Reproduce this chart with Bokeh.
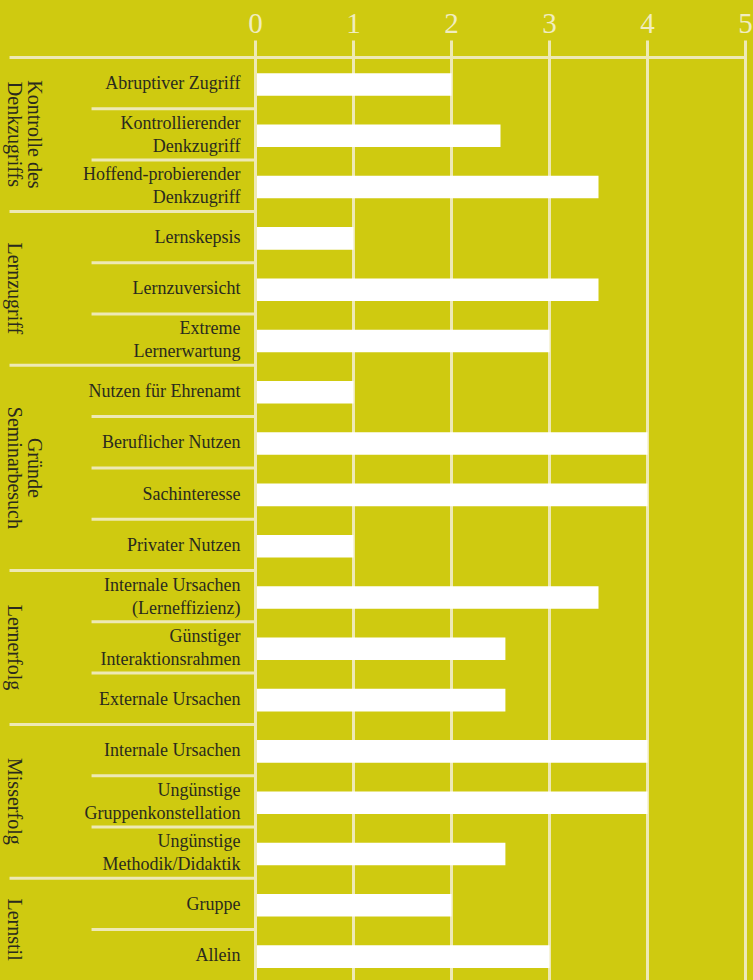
import math
from bokeh.plotting import figure
from bokeh.models import Range1d, GlobalInlineStyleSheet
from bokeh.core.properties import value
from bokeh.embed import file_html
from bokeh.resources import INLINE

# ---------------- data ----------------
categories = [
    "Abruptiver Zugriff", "Kontrollierender\nDenkzugriff", "Hoffend-probierender\nDenkzugriff",
    "Lernskepsis", "Lernzuversicht", "Extreme\nLernerwartung",
    "Nutzen für Ehrenamt", "Beruflicher Nutzen", "Sachinteresse", "Privater Nutzen",
    "Internale Ursachen\n(Lerneffizienz)", "Günstiger\nInteraktionsrahmen", "Externale Ursachen",
    "Internale Ursachen", "Ungünstige\nGruppenkonstellation", "Ungünstige\nMethodik/Didaktik",
    "Gruppe", "Allein",
]
values = [2.0, 2.5, 3.5, 1.0, 3.5, 3.0, 1.0, 4.0, 4.0, 1.0, 3.5, 2.55, 2.55, 4.0, 4.0, 2.55, 2.0, 3.0]
groups = ["Kontrolle des\nDenkzugriffs", "Lernzugriff", "Gründe\nSeminarbesuch",
          "Lernerfolg", "Misserfolg", "Lernstil"]
group_sizes = [3, 3, 4, 3, 3, 2]
ticks = [0, 1, 2, 3, 4, 5]

# ---------------- style ----------------
BG = "#cfca10"
LINE = "#eee9b4"
TICK_TXT = "#f1edc0"
TXT = "#2a2a1e"
FONT = value("Liberation Serif")

W, H = 753, 980
p = figure(width=W, height=H,
           x_range=Range1d(-2.602, 5.0816), y_range=Range1d(17.992, -1.111),
           output_backend="svg", toolbar_location=None, min_border=0,
           x_axis_location=None, y_axis_location=None,
           background_fill_color=BG, border_fill_color=BG, outline_line_color=None)
p.grid.visible = False
p.stylesheets = [GlobalInlineStyleSheet(css="body { background-color: %s; }" % BG)]

n = len(categories)
centers = [r + 0.5 for r in range(n)]

# vertical gridlines
p.segment(x0=ticks[1:], x1=ticks[1:], y0=[-0.331] * 5, y1=[18.5] * 5,
          line_color=LINE, line_width=3)

# bars
p.hbar(y=[c + 0.026 for c in centers], left=0, right=values, height=0.44,
       fill_color="white", line_color=None)

# zero line on top
p.segment(x0=[0], x1=[0], y0=[-0.331], y1=[18.5], line_color=LINE, line_width=3)

# horizontal separators
group_starts = []
acc = 0
for g in group_sizes:
    group_starts.append(acc)
    acc += g
sx0, sx1, sy = [], [], []
for b in range(n):
    if b == 0:
        sx0.append(-2.51); sx1.append(5)
    elif b in group_starts:
        sx0.append(-2.51); sx1.append(0)
    else:
        sx0.append(-1.673); sx1.append(0)
    sy.append(b)
p.segment(x0=sx0, x1=sx1, y0=sy, y1=sy, line_color=LINE, line_width=3)

# tick labels
p.text(x=ticks, y=[-0.663] * len(ticks), text=[str(t) for t in ticks],
       text_font=FONT, text_font_size="29px", text_color=TICK_TXT,
       text_align="center", text_baseline="middle")

# row labels
lx, ly, lt = [], [], []
for c, lab in zip(centers, categories):
    parts = lab.split("\n")
    k = len(parts)
    for i, part in enumerate(parts):
        off = (i - (k - 1) / 2) * 0.448
        lx.append(-0.153); ly.append(c + off); lt.append(part)
p.text(x=lx, y=ly, text=lt, text_font=FONT, text_font_size="18px",
       text_color=TXT, text_align="right", text_baseline="middle")

# group labels (rotated)
gx, gy, gt = [], [], []
for start, size, name in zip(group_starts, group_sizes, groups):
    mid = start + size / 2
    parts = name.split("\n")
    if len(parts) == 1:
        gx.append(-2.449); gy.append(mid); gt.append(parts[0])
    else:
        gx += [-2.245, -2.449]; gy += [mid, mid]; gt += parts
p.text(x=gx, y=gy, text=gt, angle=-math.pi / 2, text_font=FONT,
       text_font_size="20px", text_color=TXT,
       text_align="center", text_baseline="middle")

open("out.html", "w").write(file_html(p, INLINE))
